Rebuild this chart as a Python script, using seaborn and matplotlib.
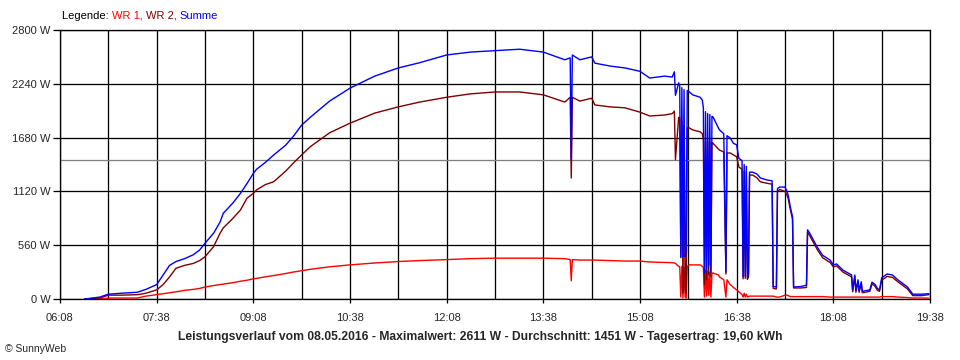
import matplotlib
matplotlib.use("Agg")
import matplotlib.pyplot as plt
import pandas as pd
import seaborn as sns

# ---------------- data ----------------
times = [
    "06:31", "06:45", "06:53", "07:05", "07:20", "07:28", "07:38", "07:44", "07:50", "07:56",
    "08:04", "08:12", "08:18", "08:23", "08:31", "08:37", "08:40", "08:49", "08:56", "09:02",
    "09:08", "09:11", "09:19", "09:27", "09:38", "09:45", "09:53", "10:01", "10:19", "10:38",
    "11:01", "11:23", "11:43", "12:08", "12:30", "12:53", "13:16", "13:38", "13:58", "14:03",
    "14:04", "14:05", "14:12", "14:23", "14:26", "14:40", "14:54", "15:08", "15:17", "15:31",
    "15:38", "15:40", "15:41", "15:44", "15:45", "15:46", "15:47", "15:48", "15:49", "15:50",
    "15:51", "15:52", "15:54", "15:57", "16:04", "16:06", "16:07", "16:08", "16:09", "16:10",
    "16:11", "16:12", "16:13", "16:14", "16:15", "16:16", "16:21", "16:22", "16:26", "16:28",
    "16:29", "16:32", "16:35", "16:38", "16:40", "16:43", "16:44", "16:45", "16:46", "16:47",
    "16:48", "16:49", "16:50", "16:53", "16:57", "17:00", "17:06", "17:11", "17:12", "17:15",
    "17:16", "17:18", "17:23", "17:25", "17:26", "17:28", "17:30", "17:31", "17:38", "17:43",
    "17:44", "17:46", "17:53", "17:58", "18:05", "18:08", "18:11", "18:17", "18:25", "18:26",
    "18:28", "18:29", "18:31", "18:32", "18:34", "18:35", "18:40", "18:42", "18:44", "18:47",
    "18:49", "18:51", "18:53", "18:58", "19:03", "19:08", "19:17", "19:22", "19:30", "19:37",
]
wr1 = [
    0, 0, 10, 10, 10, 30, 45, 55, 65, 75,
    90, 100, 110, 125, 140, 150, 155, 170, 185, 195,
    210, 215, 230, 245, 265, 280, 295, 309, 335, 355,
    375, 390, 400, 410, 420, 425, 425, 425, 420, 410,
    190, 410, 405, 405, 405, 400, 395, 395, 385, 380,
    378, 375, 370, 340, 335, 20, 340, 10, 330, 20,
    10, 340, 355, 355, 355, 340, 330, 20, 300, 30,
    290, 40, 280, 20, 270, 270, 250, 230, 200, 20,
    200, 150, 120, 95, 75, 45, 20, 60, 20, 50,
    20, 25, 30, 30, 30, 30, 30, 30, 30, 20,
    20, 20, 40, 40, 35, 25, 25, 25, 25, 25,
    25, 25, 25, 25, 20, 20, 20, 20, 20, 20,
    20, 20, 20, 20, 20, 20, 20, 20, 20, 20,
    20, 20, 25, 25, 25, 20, 15, 10, 10, 10,
]
wr2 = [
    0, 10, 40, 40, 45, 60, 95, 150, 230, 320,
    350, 370, 400, 440, 545, 684, 740, 840, 926, 1048,
    1100, 1135, 1190, 1221, 1330, 1412, 1500, 1585, 1730, 1830,
    1935, 2000, 2050, 2100, 2135, 2155, 2155, 2125, 2050, 2100,
    1260, 2100, 2060, 2090, 2020, 2000, 1990, 1945, 1905, 1915,
    1930, 1955, 1450, 1890, 1885, 430, 1850, 60, 1800, 100,
    60, 1780, 1780, 1760, 1740, 1720, 1655, 150, 1640, 200,
    1640, 250, 1635, 230, 1630, 1620, 1560, 1550, 1530, 260,
    1520, 1520, 1500, 1480, 1375, 1350, 210, 1330, 215, 1320,
    205, 230, 1290, 1290, 1260, 1220, 1205, 1195, 110, 105,
    1120, 1140, 1120, 1075, 1045, 930, 830, 115, 115, 120,
    695, 660, 515, 430, 380, 335, 345, 280, 230, 75,
    230, 70, 180, 70, 160, 65, 75, 80, 160, 130,
    90, 80, 195, 235, 225, 180, 105, 35, 35, 45,
]
summe = [
    0, 20, 50, 60, 70, 100, 150, 250, 350, 390,
    420, 460, 510, 580, 685, 800, 892, 1000, 1100, 1200,
    1308, 1350, 1420, 1500, 1600, 1690, 1810, 1891, 2060, 2195,
    2320, 2405, 2460, 2540, 2570, 2585, 2600, 2570, 2490, 2510,
    1450, 2540, 2490, 2520, 2455, 2425, 2405, 2370, 2300, 2320,
    2310, 2365, 2120, 2250, 2220, 440, 2200, 440, 2180, 440,
    500, 2170, 2155, 2125, 2100, 2070, 1990, 270, 1950, 300,
    1930, 350, 1920, 280, 1900, 1895, 1780, 1760, 1720, 280,
    1700, 1675, 1620, 1605, 1465, 1440, 230, 1400, 240, 1380,
    230, 260, 1320, 1320, 1300, 1260, 1240, 1230, 130, 125,
    1150, 1165, 1165, 1115, 1080, 955, 855, 125, 130, 145,
    720, 685, 540, 455, 405, 355, 365, 300, 250, 95,
    250, 90, 200, 85, 180, 80, 90, 95, 175, 150,
    110, 95, 220, 260, 250, 200, 125, 50, 50, 55,
]
series_names = ["WR 1", "WR 2", "Summe"]
series_colors = ["#FF0000", "#800000", "#0000FF"]
y_ticks = [0, 560, 1120, 1680, 2240, 2800]
x_tick_labels = ["06:08", "07:38", "09:08", "10:38", "12:08", "13:38", "15:08", "16:38", "18:08", "19:38"]
average_w = 1451
title_text = "Leistungsverlauf vom 08.05.2016 - Maximalwert: 2611 W - Durchschnitt: 1451 W - Tagesertrag: 19,60 kWh"

assert len(times) == len(wr1) == len(wr2) == len(summe)


def to_minutes(t):
    h, m = t.split(":")
    return int(h) * 60 + int(m)


tmin = [to_minutes(t) for t in times]
df = pd.DataFrame({
    "t": tmin * 3,
    "value": wr1 + wr2 + summe,
    "series": [n for n in series_names for _ in times],
})

sns.set_style("white")
plt.rcParams["font.family"] = ["Liberation Sans", "DejaVu Sans"]

W, H = 960, 360
PX = 0.72  # one pixel in points at 100 dpi
fig = plt.figure(figsize=(W / 100, H / 100), dpi=100)
fig.patch.set_facecolor("white")
ax = fig.add_axes([60 / W, 61 / H, 870 / W, 269 / H])

x0 = to_minutes(x_tick_labels[0])
x1 = to_minutes(x_tick_labels[-1])

ax.axhline(average_w, color="#808080", lw=1.3 * PX, zorder=1.5)

sns.lineplot(
    data=df, x="t", y="value", hue="series", hue_order=series_names,
    palette=dict(zip(series_names, series_colors)),
    estimator=None, sort=False, linewidth=1.4 * PX, legend=False, ax=ax, zorder=3,
)

ax.set_xlim(x0, x1)
ax.set_ylim(0, 2800)
ax.set_xticks([to_minutes(l) for l in x_tick_labels])
ax.set_xticklabels(x_tick_labels)
ax.set_xticks([to_minutes(l) + 45 for l in x_tick_labels[:-1]], minor=True)
ax.set_yticks(y_ticks)
ax.set_yticklabels([f"{v} W" for v in y_ticks])
ax.set_xlabel("")
ax.set_ylabel("")

ax.set_axisbelow(True)
ax.grid(True, which="both", axis="x", color="black", lw=1.3 * PX)
ax.grid(True, which="major", axis="y", color="black", lw=1.3 * PX)
for s in ax.spines.values():
    s.set_color("black")
    s.set_linewidth(1.3 * PX)
    s.set_visible(True)

ax.tick_params(axis="x", which="major", direction="out", length=3, width=1.3 * PX, color="black",
               pad=7, labelsize=8, bottom=True)
ax.tick_params(axis="x", which="minor", length=0)
ax.tick_params(axis="y", which="major", direction="out", length=5, width=1.3 * PX, color="black",
               pad=2, labelsize=8, left=True)

# legend line at top-left
fig.canvas.draw()
renderer = fig.canvas.get_renderer()
parts = [("Legende: ", "black"), ("WR 1, ", series_colors[0]),
         ("WR 2, ", series_colors[1]), ("Summe", series_colors[2])]
xpos = 62 / W
for txt, col in parts:
    t = fig.text(xpos, 1 - 16 / H, txt, color=col, fontsize=8, va="center", ha="left")
    bb = t.get_window_extent(renderer=renderer)
    xpos += bb.width / W

fig.text(480 / W, 1 - 337 / H, title_text, fontsize=8.7, fontweight="bold", ha="center", va="center")
fig.text(5 / W, 1 - 349 / H, "© SunnyWeb", fontsize=7.5, ha="left", va="center")

fig.savefig("out.png", dpi=100, facecolor="white")
